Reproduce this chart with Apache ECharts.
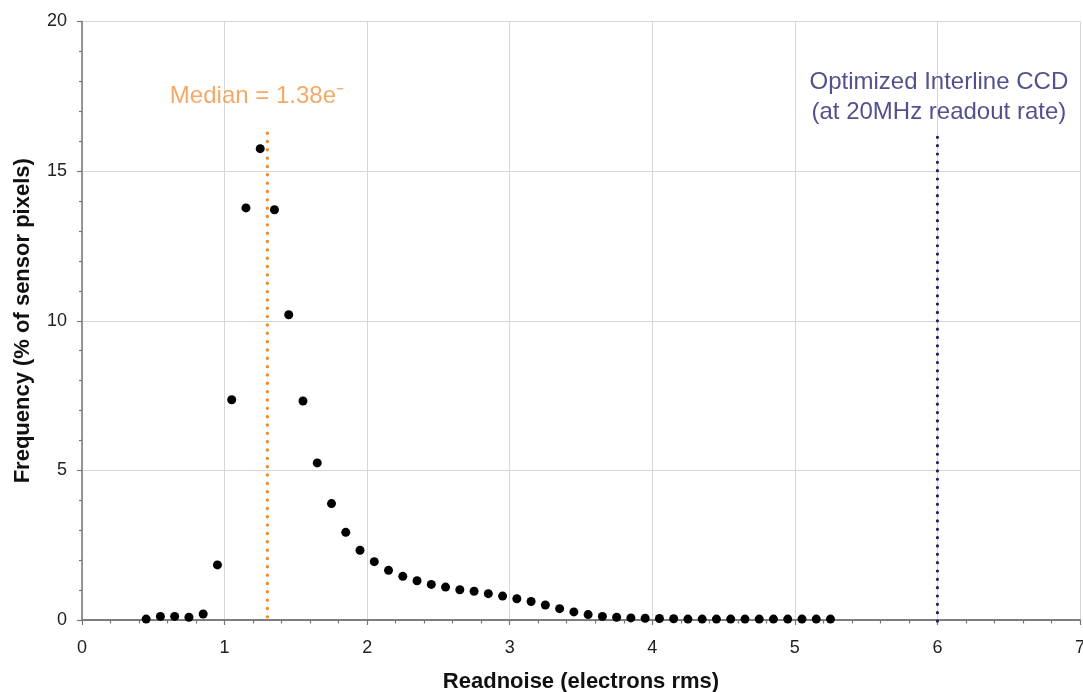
<!DOCTYPE html>
<html>
<head>
<meta charset="utf-8">
<script src="https://cdn.jsdelivr.net/npm/echarts@6/dist/echarts.min.js"></script>
<style>
html,body{margin:0;padding:0;background:#fff;overflow:hidden;width:100%;height:100%;}
#chart{position:fixed;left:0;top:0;width:100vw;height:100vh;}
</style>
</head>
<body>
<div id="chart"></div>
<script>
// ---- Data ----
const xTitle = 'Readnoise (electrons rms)';
const yTitle = 'Frequency (% of sensor pixels)';
const xTicks = [0, 1, 2, 3, 4, 5, 6, 7];
const yTicks = [0, 5, 10, 15, 20];

const readnoiseBins = [
  0.45, 0.55, 0.65, 0.75, 0.85, 0.95, 1.05, 1.15, 1.25, 1.35,
  1.45, 1.55, 1.65, 1.75, 1.85, 1.95, 2.05, 2.15, 2.25, 2.35,
  2.45, 2.55, 2.65, 2.75, 2.85, 2.95, 3.05, 3.15, 3.25, 3.35,
  3.45, 3.55, 3.65, 3.75, 3.85, 3.95, 4.05, 4.15, 4.25, 4.35,
  4.45, 4.55, 4.65, 4.75, 4.85, 4.95, 5.05, 5.15, 5.25
];
const frequencyPct = [
  0.03, 0.12, 0.12, 0.09, 0.20, 1.84, 7.36, 13.77, 15.75, 13.71,
  10.20, 7.32, 5.25, 3.89, 2.93, 2.33, 1.95, 1.66, 1.46, 1.31,
  1.19, 1.10, 1.01, 0.96, 0.88, 0.80, 0.71, 0.62, 0.50, 0.38,
  0.27, 0.18, 0.12, 0.09, 0.07, 0.06, 0.05, 0.04, 0.03, 0.03,
  0.03, 0.03, 0.03, 0.03, 0.03, 0.03, 0.03, 0.03, 0.03
];

// Reference lines (x position, y top, y bottom)
const medianLineX = 1.3;
const medianLineY = [16.27, -0.17];
const ccdLineX = 6;
const ccdLineY = [16.13, -0.31];

// Annotation texts and anchors [x, y]
const medianText = 'Median = 1.38e\u207B';
const medianAnchor = [1.227, 17.51];
const ccdText = 'Optimized Interline CCD\n(at 20MHz readout rate)';
const ccdAnchor = [6.01, 17.45];

// ---- Chart ----
const axisColor = '#777';
const font = 'Liberation Sans, Arial, Helvetica, sans-serif';

const chart = echarts.init(document.getElementById('chart'), null, {renderer: 'canvas'});
const option = {
  animation: false,
  backgroundColor: '#fff',
  grid: {left: 82, right: 3, top: 21.5, bottom: 72, containLabel: false, outerBoundsMode: 'none'},
  xAxis: [{
    type: 'value', min: xTicks[0], max: xTicks[xTicks.length - 1], interval: 1,
    name: xTitle, nameLocation: 'middle', nameGap: 51,
    nameTextStyle: {fontFamily: font, fontWeight: 'bold', fontSize: 22, color: '#111'},
    axisLine: {show: true, onZero: false, lineStyle: {color: axisColor, width: 1.5}},
    axisTick: {show: true, length: 5, lineStyle: {color: axisColor, width: 1.2}},
    minorTick: {show: true, splitNumber: 5, length: 3.5, lineStyle: {color: axisColor, width: 1.2}},
    axisLabel: {fontFamily: font, fontSize: 18, color: '#222', margin: 19},
    splitLine: {show: true, lineStyle: {color: '#d6d6d6', width: 1}}
  }, {
    type: 'value', position: 'top', min: xTicks[0], max: xTicks[xTicks.length - 1], interval: 1,
    axisLine: {show: true, lineStyle: {color: axisColor, width: 1.5}},
    axisTick: {show: false}, axisLabel: {show: false}, splitLine: {show: false}
  }],
  yAxis: {
    type: 'value', min: yTicks[0], max: yTicks[yTicks.length - 1], interval: 5,
    name: yTitle, nameLocation: 'middle', nameGap: 48,
    nameTextStyle: {fontFamily: font, fontWeight: 'bold', fontSize: 22, color: '#111'},
    axisLine: {show: true, lineStyle: {color: axisColor, width: 1.5}},
    axisTick: {show: true, length: 5, lineStyle: {color: axisColor, width: 1.2}},
    minorTick: {show: true, splitNumber: 5, length: 3, lineStyle: {color: axisColor, width: 1.2}},
    axisLabel: {fontFamily: font, fontSize: 18, color: '#222', margin: 15},
    splitLine: {show: true, lineStyle: {color: '#d6d6d6', width: 1}}
  },
  series: [
    {
      type: 'line', name: 'median', clip: false, symbol: 'none', silent: true, z: 3,
      data: medianLineY.map(y => [medianLineX, y]),
      lineStyle: {color: '#f28a28', width: 3.4, type: [0.01, 8.33], cap: 'round'}
    },
    {
      type: 'line', name: 'ccd', clip: false, symbol: 'none', silent: true, z: 3,
      data: ccdLineY.map(y => [ccdLineX, y]),
      lineStyle: {color: '#1f1f6b', width: 3.2, type: [0.01, 8.33], cap: 'round'}
    },
    {
      type: 'scatter', name: 'freq', z: 5,
      symbol: 'circle', symbolSize: 9,
      itemStyle: {color: '#000', opacity: 1},
      data: readnoiseBins.map((x, i) => [x, frequencyPct[i]])
    },
    {
      type: 'scatter', name: 'labels', z: 6, symbolSize: 0, silent: true,
      data: [
        {value: medianAnchor, label: {show: true, position: 'inside', formatter: medianText,
          fontFamily: font, fontSize: 24, color: '#f39440', align: 'center', verticalAlign: 'middle'}},
        {value: ccdAnchor, label: {show: true, position: 'inside', formatter: ccdText,
          fontFamily: font, fontSize: 24, lineHeight: 30, color: '#262670', align: 'center', verticalAlign: 'middle'}}
      ]
    }
  ]
};
chart.setOption(option);
</script>
</body>
</html>
